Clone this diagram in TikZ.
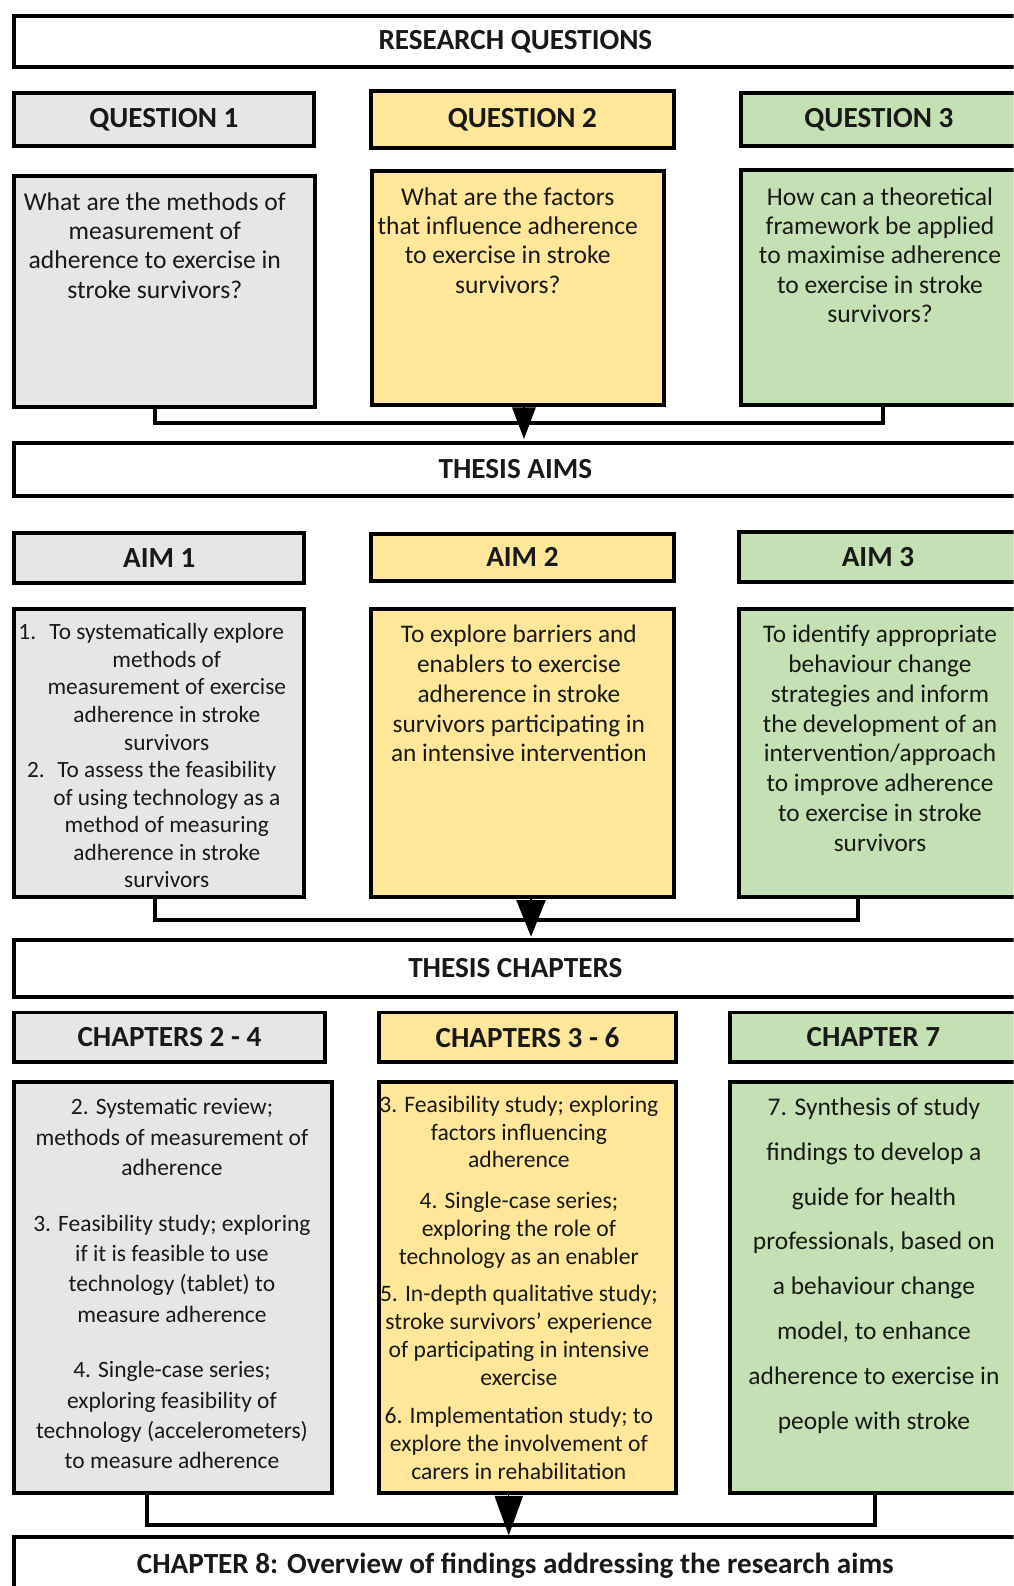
\documentclass[tikz,border=0pt]{standalone}
\usepackage{fontspec}
\setmainfont{Carlito}
\usetikzlibrary{arrows.meta}
\definecolor{boxgray}{HTML}{E7E6E6}
\definecolor{boxyellow}{HTML}{FFE699}
\definecolor{boxgreen}{HTML}{C5E0B4}
\newcommand{\bodyfont}[2]{\fontsize{#1}{#2}\selectfont}
\tikzset{
  wh/.style 2 args={minimum width=#1*0.025cm, minimum height=#2*0.025cm},
  headbox/.style={draw=black, line width=2.8pt, inner sep=0pt, text=black!90,
    font=\fontsize{20.5}{24}\selectfont\bfseries},
  bodybox/.style={draw=black, line width=2.8pt, inner sep=0pt},
  bodytext/.style={align=center, anchor=north, inner sep=0pt, text=black!90},
  bracket/.style={line width=2.8pt},
}
\begin{document}
\begin{tikzpicture}[x=0.025cm, y=-0.025cm]
  \clip (0,0) rectangle (1002,1568);
  \fill[white] (0,0) rectangle (1002,1568);

  % Research questions
  \node[headbox, wh={991}{50}] (research) at (509.5,41) {RESEARCH QUESTIONS};
  \node[headbox, fill=boxgray, wh={296}{52}] (q1head) at (162,118) {QUESTION 1};
  \node[headbox, fill=boxyellow, wh={299}{56}] (q2head) at (516.5,118) {QUESTION 2};
  \node[headbox, fill=boxgreen, wh={272}{52}] (q3head) at (869,118) {QUESTION 3};

  \node[bodybox, fill=boxgray, wh={297}{228}] (q1body) at (162.5,288) {};
  \node[bodybox, fill=boxyellow, wh={288}{231}] (q2body) at (512,284.5) {};
  \node[bodybox, fill=boxgreen, wh={272}{232}] (q3body) at (869,284) {};

  \node[bodytext, font=\bodyfont{18}{20.6}] (q1text) at (153,190) {What are the methods of\\measurement of\\adherence to exercise in\\stroke survivors?};
  \node[bodytext, font=\bodyfont{18}{20.6}] (q2text) at (502,185) {What are the factors\\that influence adherence\\to exercise in stroke\\survivors?};
  \node[bodytext, font=\bodyfont{18}{20.6}] (q3text) at (870,185) {How can a theoretical\\framework be applied\\to maximise adherence\\to exercise in stroke\\survivors?};

  % Thesis aims
  \node[headbox, wh={991}{52}] (aims) at (509.5,464) {THESIS AIMS};
  \node[headbox, fill=boxgray, wh={287}{49}] (a1head) at (157.5,551.5) {AIM 1};
  \node[headbox, fill=boxyellow, wh={299}{46}] (a2head) at (516.5,551) {AIM 2};
  \node[headbox, fill=boxgreen, wh={274}{49}] (a3head) at (868,550.5) {AIM 3};

  \node[bodybox, fill=boxgray, wh={287}{285}] (a1body) at (157.5,744.5) {};
  \node[bodybox, fill=boxyellow, wh={299}{285}] (a2body) at (516.5,744.5) {};
  \node[bodybox, fill=boxgreen, wh={274}{285}] (a3body) at (868,744.5) {};

  \node[bodytext, anchor=north west, font=\bodyfont{16.4}{19.4}] (a1text) at (18,613) {%
    \begin{tabular}{@{}l@{\hspace{2pt}}c@{}}
      1. & To systematically explore\\
         & methods of\\
         & measurement of exercise\\
         & adherence in stroke\\
         & survivors\\
      \hspace{6pt}2. & To assess the feasibility\\
         & of using technology as a\\
         & method of measuring\\
         & adherence in stroke\\
         & survivors
    \end{tabular}};
  \node[bodytext, font=\bodyfont{17.8}{20.9}] (a2text) at (513,618) {To explore barriers and\\enablers to exercise\\adherence in stroke\\survivors participating in\\an intensive intervention};
  \node[bodytext, font=\bodyfont{17.8}{20.9}] (a3text) at (870,618) {To identify appropriate\\behaviour change\\strategies and inform\\the development of an\\intervention/approach\\to improve adherence\\to exercise in stroke\\survivors};

  % Thesis chapters
  \node[headbox, wh={991}{57}] (chapters) at (509.5,957.5) {THESIS CHAPTERS};
  \node[headbox, fill=boxgray, wh={307}{49}] (c1head) at (167.5,1025.5) {CHAPTERS 2 - 4};
  \node[headbox, fill=boxyellow, wh={293}{49}] (c2head) at (521.5,1025.5) {CHAPTERS 3 - 6};
  \node[headbox, fill=boxgreen, wh={283}{49}] (c3head) at (863.5,1025.5) {CHAPTER 7};

  \node[bodybox, fill=boxgray, wh={314}{406}] (c1body) at (171,1273) {};
  \node[bodybox, fill=boxyellow, wh={293}{406}] (c2body) at (521.5,1273) {};
  \node[bodybox, fill=boxgreen, wh={283}{406}] (c3body) at (863.5,1273) {};

  \node[bodytext, font=\bodyfont{16.5}{21.3}] (c1text) at (170,1086) {2. Systematic review;\\methods of measurement of\\adherence\\[17.8pt]3. Feasibility study; exploring\\if it is feasible to use\\technology (tablet) to\\measure adherence\\[17.8pt]4. Single-case series;\\exploring feasibility of\\technology (accelerometers)\\to measure adherence};
  \node[bodytext, font=\bodyfont{16.6}{19.6}] (c2text) at (513,1083) {3. Feasibility study; exploring\\factors influencing\\adherence\\[8.9pt]4. Single-case series;\\exploring the role of\\technology as an enabler\\[6.8pt]5. In-depth qualitative study;\\stroke survivors’ experience\\of participating in intensive\\exercise\\[7.5pt]6. Implementation study; to\\explore the involvement of\\carers in rehabilitation};
  \node[bodytext, font=\bodyfont{17.9}{31.5}] (c3text) at (864,1085) {7. Synthesis of study\\findings to develop a\\guide for health\\professionals, based on\\a behaviour change\\model, to enhance\\adherence to exercise in\\people with stroke};

  % Chapter 8
  \node[headbox, wh={991}{56}] (ch8) at (509.5,1548) {CHAPTER 8: Overview of findings addressing the research aims};

  % Brackets joining the columns
  \coordinate (qleft) at (153,418);
  \coordinate (qright) at (873,418);
  \coordinate (qtip) at (518,434);
  \draw[bracket] (q1body.south -| qleft) -- (qleft) -- (qright) -- (q3body.south -| qright);
  \draw[line width=1pt, -{Triangle[length=0.78cm,width=0.58cm]}] (qtip |- q2body.south) -- (qtip);

  \coordinate (aleft) at (153,910);
  \coordinate (aright) at (848,910);
  \coordinate (atip) at (525,926);
  \draw[bracket] (a1body.south -| aleft) -- (aleft) -- (aright) -- (a3body.south -| aright);
  \draw[line width=1pt, -{Triangle[length=0.9cm,width=0.72cm]}] (atip |- a2body.south) -- (atip);

  \coordinate (cleft) at (145,1508);
  \coordinate (cright) at (865,1508);
  \coordinate (ctip) at (503,1518);
  \draw[bracket] (c1body.south -| cleft) -- (cleft) -- (cright) -- (c3body.south -| cright);
  \draw[line width=1pt, -{Triangle[length=0.98cm,width=0.7cm]}] (ctip |- c2body.south) -- (ctip);
\end{tikzpicture}
\end{document}
